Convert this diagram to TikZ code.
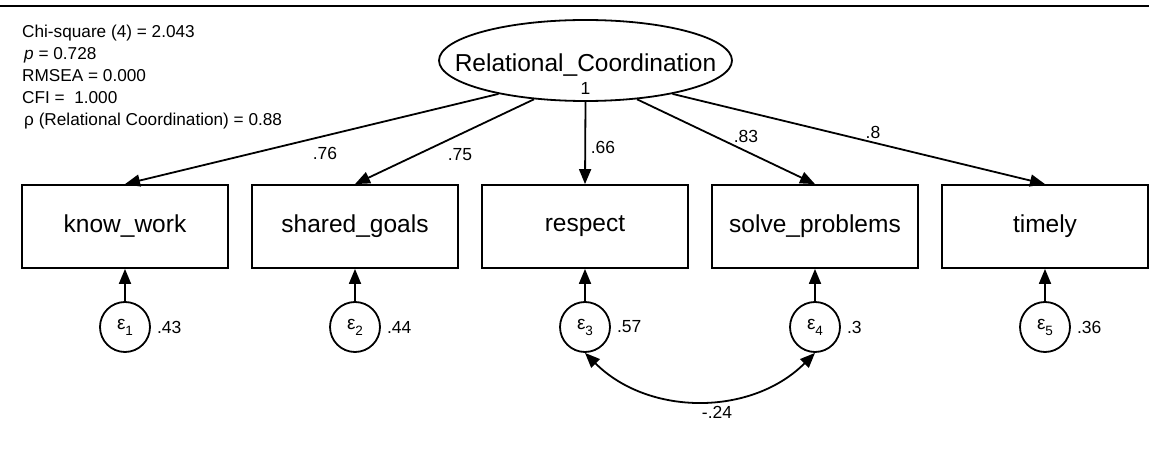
\documentclass[tikz,border=0pt]{standalone}
\usepackage{fontspec}
\setmainfont{Liberation Sans}
\usetikzlibrary{arrows.meta,shapes.geometric}
\newcommand\epsi[1]{{\fontsize{19}{20}\selectfont ε}\raisebox{-6pt}{\fontsize{13.5}{14}\selectfont #1}}
\begin{document}
\begin{tikzpicture}[x=1pt,y=1pt,
  lw/.style={line width=1.8pt},
  obs/.style={draw, lw, minimum width=206pt, minimum height=83pt, inner sep=0pt, font=\fontsize{24.5}{28}\selectfont},
  err/.style={draw, circle, lw, minimum size=50pt, inner sep=0pt},
  tip/.tip={Triangle[length=15pt,width=12pt]},
  pathto/.style={lw, -tip},
  lab/.style={font=\fontsize{17.5}{20}\selectfont, inner sep=0pt},
  stat/.style={font=\fontsize{17.2}{20}\selectfont, anchor=base west, inner sep=0pt}]
\useasboundingbox (0,0) rectangle (1149,-457);
\coordinate (tl) at (0,-6);
\coordinate (tr) at (1149,-6);
\draw[line width=2.5pt] (tl) -- (tr);
% fit statistics
\node[stat] (s1) at (22,-38) {Chi-square (4) = 2.043};
\node[stat] (s2) at (22,-60) {\hspace{2pt}\textit{p} = 0.728};
\node[stat] (s3) at (22,-82) {RMSEA = 0.000};
\node[stat] (s4) at (22,-104) {CFI =\ \ 1.000};
\node[stat] (s5) at (22,-126) {\hspace{2pt}ρ (Relational Coordination) = 0.88};
% latent
\node[draw, ellipse, lw, minimum width=293pt, minimum height=81pt, inner sep=0pt] (rc) at (585.5,-60.5) {};
\node[font=\fontsize{24.5}{28}\selectfont, inner sep=0pt] (rct) at (585.5,-65) {Relational\_Coordination};
\node[lab] (one) at (585.5,-88) {1};
% observed
\node[obs] (kw) at (125,-226.5) {know\_work};
\node[obs] (sg) at (355,-226.5) {shared\_goals};
\node[obs] (re) at (585,-226.5) {respect};
\node[obs] (sp) at (815,-226.5) {solve\_problems};
\node[obs] (ti) at (1045,-226.5) {timely};
% errors
\node[err] (e1) at (125,-327) {\epsi{1}};
\node[err] (e2) at (355,-327) {\epsi{2}};
\node[err] (e3) at (585,-327) {\epsi{3}};
\node[err] (e4) at (815,-327) {\epsi{4}};
\node[err] (e5) at (1045,-327) {\epsi{5}};
% loadings
\draw[pathto] (rc.201) -- (kw.north);
\draw[pathto] (rc.217) -- (sg.north);
\draw[pathto] (rc.south) -- (re.north);
\draw[pathto] (rc.323) -- (sp.north);
\draw[pathto] (rc.339) -- (ti.north);
\node[lab] (l1) at (325,-153) {.76};
\node[lab] (l2) at (460,-155) {.75};
\node[lab] (l3) at (603,-147) {.66};
\node[lab] (l4) at (746,-136) {.83};
\node[lab] (l5) at (873,-132) {.8};
% error paths
\foreach \e/\b in {e1/kw,e2/sg,e3/re,e4/sp,e5/ti}{
  \draw[pathto] (\e.north) -- (\b.south);
}
\node[lab, anchor=west] (v1) at ([xshift=6pt]e1.east) {.43};
\node[lab, anchor=west] (v2) at ([xshift=6pt]e2.east) {.44};
\node[lab, anchor=west] (v3) at ([xshift=6pt]e3.east) {.57};
\node[lab, anchor=west] (v4) at ([xshift=6pt]e4.east) {.3};
\node[lab, anchor=west] (v5) at ([xshift=6pt]e5.east) {.36};
% covariance
\draw[lw, tip-tip] (e3.south) to[out=-45,in=-135] (e4.south);
\node[lab] (cv) at (717,-412) {-.24};
\end{tikzpicture}
\end{document}
